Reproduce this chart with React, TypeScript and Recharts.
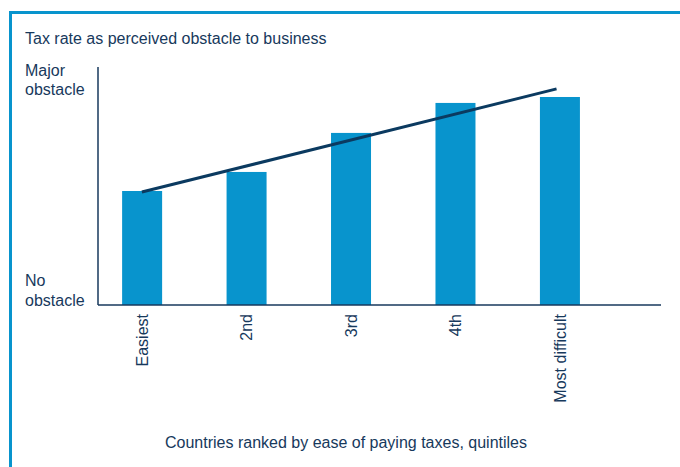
import { Bar, ComposedChart, Line, XAxis, YAxis } from "recharts";

const categories = ["Easiest", "2nd", "3rd", "4th", "Most difficult"];
const obstacleScores = [4.79, 5.59, 7.23, 8.49, 8.74];
const trendX = [0, 3.97];
const trendY = [4.75, 9.08];

const barData = categories.map((name, i) => ({ x: i, name, score: obstacleScores[i] }));
const trendData = trendX.map((x, i) => ({ x, trend: trendY[i] }));

const navy = "#17395c";
const blue = "#0894cd";
const font = "'Liberation Sans', Arial, sans-serif";
const BAR_W = 40;

const RotatedTick = ({ x, y, payload }: any) => (
  <text
    x={0}
    y={0}
    transform={`translate(${x + 6},${y + 1}) rotate(-90)`}
    textAnchor="end"
    fontSize={16}
    fill={navy}
    fontFamily={font}
  >
    {categories[payload.value]}
  </text>
);

// numeric x axis squeezes the band, so draw a fixed-width bar around its centre
const WideBar = ({ x, y, width, height }: any) => (
  <rect x={x + width / 2 - BAR_W / 2} y={y} width={BAR_W} height={height} fill={blue} />
);

const label = (top: number, lines: string[], lh: number) => (
  <div
    style={{
      position: "absolute",
      left: 25,
      top,
      fontSize: 16,
      lineHeight: `${lh}px`,
      color: navy,
      fontFamily: font,
    }}
  >
    {lines.map((l) => (
      <div key={l}>{l}</div>
    ))}
  </div>
);

export default function App() {
  return (
    <div style={{ position: "absolute", left: 0, top: 0, width: 680, height: 467, background: "#fff" }}>
      <div
        style={{
          position: "absolute",
          left: 9,
          top: 11,
          right: 0,
          bottom: 0,
          borderTop: `3px solid ${blue}`,
          borderLeft: `3px solid ${blue}`,
        }}
      />
      <div
        style={{ position: "absolute", left: 25, top: 30, fontSize: 16, lineHeight: "18px", color: navy, fontFamily: font }}
      >
        Tax rate as perceived obstacle to business
      </div>
      {label(61, ["Major", "obstacle"], 19)}
      {label(271, ["No", "obstacle"], 20)}
      <div
        style={{
          position: "absolute",
          left: 98,
          width: 496,
          top: 434,
          textAlign: "center",
          fontSize: 16,
          lineHeight: "18px",
          color: navy,
          fontFamily: font,
        }}
      >
        Countries ranked by ease of paying taxes, quintiles
      </div>
      <div style={{ position: "absolute", left: 0, top: 0 }}>
        <ComposedChart
          width={680}
          height={467}
          data={barData}
          margin={{ top: 67, right: 19, bottom: 62, left: 97 }}
        >
          <XAxis
            dataKey="x"
            type="number"
            domain={[-0.42, 4.97]}
            ticks={[0, 1, 2, 3, 4]}
            allowDataOverflow
            height={100}
            axisLine={{ stroke: navy, strokeWidth: 1.5 }}
            tickLine={false}
            tick={<RotatedTick />}
          />
          <YAxis
            type="number"
            domain={[0, 10]}
            width={1}
            tick={false}
            tickLine={false}
            axisLine={{ stroke: navy, strokeWidth: 1.5 }}
          />
          <Bar dataKey="score" fill={blue} shape={<WideBar />} isAnimationActive={false} />
          <Line
            data={trendData}
            dataKey="trend"
            stroke="#0b3a60"
            strokeWidth={3}
            dot={false}
            activeDot={false}
            isAnimationActive={false}
          />
        </ComposedChart>
      </div>
    </div>
  );
}
